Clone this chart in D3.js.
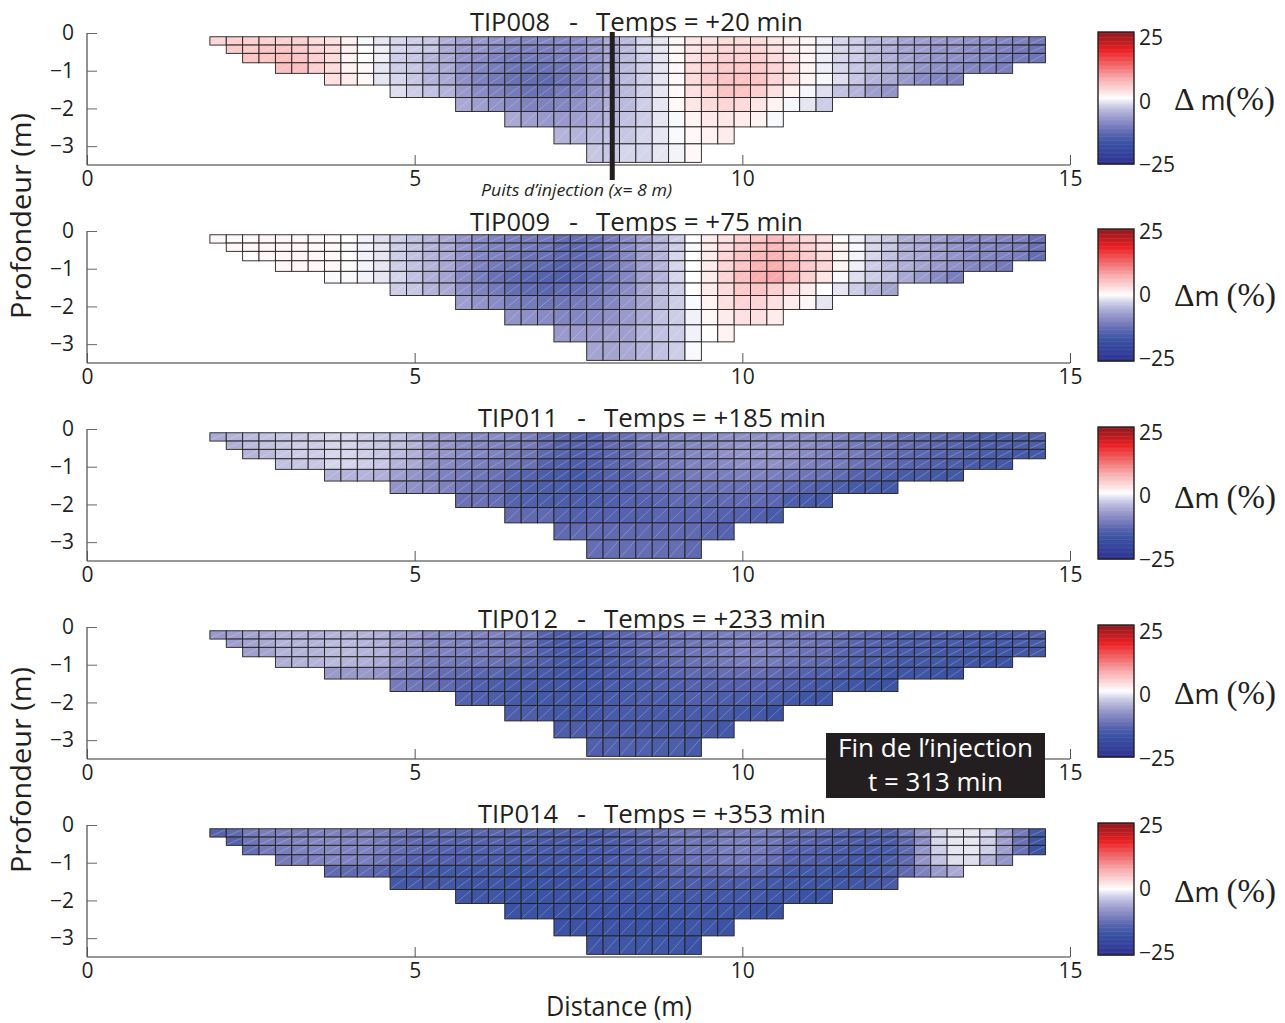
<!DOCTYPE html>
<html><head><meta charset="utf-8">
<script src="https://cdn.jsdelivr.net/npm/d3@7/dist/d3.min.js"></script>
<style>
html,body{margin:0;padding:0;background:#fff}
svg{display:block}
text{font-family:"Open Sans",sans-serif;fill:#231f20}
</style></head><body>
<svg id="c" width="1285" height="1023"></svg>
<script>
const panelTitles=["TIP008","TIP009","TIP011","TIP012","TIP014"];
const panelTimes=["+20","+75","+185","+233","+353"];
const rowStart=[0,1,2,4,7,11,15,18,21,23];
const depthEdges=[0.1,0.32,0.54,0.79,1.07,1.38,1.71,2.08,2.49,2.94,3.43];
const colWidth=0.25, firstCol=1.875;
const xTicks=[0,5,10,15], yTicks=[0,-1,-2,-3];
const barTicks=[25,0,-25];
const legendDelta=["m(%)","m (%)","m (%)","m (%)","m (%)"];

const tip008=[
[3.5,4,4,4,4,4,3,2.5,1,-.4,-1.5,-2.5,-3,-3.5,-5.5,-7,-7.5,-8,-9,-9.5,-9.5,-9.5,-9,-8,-6,-4.5,-2.5,-1.5,.5,2,2.5,3,3,3,2,1.5,.6,-.8,-2.5,-3,-4.5,-5,-6.5,-7,-7.5,-7.5,-8.5,-9,-9.5,-10,-11],
[4.5,4.5,5,5,4.5,3.5,3,1,0,-1,-2.5,-3,-3.5,-6,-7.5,-8,-9,-10,-10.5,-10.5,-10,-9.5,-8,-6.5,-4.5,-2.5,-1.5,.5,2,3,3.5,3.5,3.5,2.5,1.5,.5,-1,-2.5,-3,-4.5,-5.5,-6.5,-7,-8,-8,-9,-9.5,-10,-11,-11.5],
[5,5,5.5,5,4,3,.8,0,-1,-3,-3.5,-5,-6,-8,-9,-10,-11,-11,-11,-10.5,-9.5,-8,-6.5,-4.5,-3,-1.5,.4,2.5,3.5,4,4,4,3,2,.6,-1,-2.5,-3,-4.5,-5.5,-6.5,-7.5,-8,-8.5,-9,-9.5,-10.5,-11,-11.5],
[5.5,5.5,4,3,1,.5,-1.5,-3,-3.5,-5,-6,-8.5,-9.5,-10.5,-11.5,-12,-12,-11.5,-10,-8.5,-6.5,-4.5,-3,-1.5,.4,3,4,4.5,4.5,4.5,3.5,2.5,.8,-1,-2.5,-3.5,-4.5,-5.5,-6.5,-8,-8.5,-9,-9.5,-10,-10.5],
[2.5,1.5,.5,-1.5,-2.5,-3.5,-5,-6,-8.5,-10,-11,-12,-12.5,-13,-12,-10.5,-9,-6.5,-4.5,-3,-1.5,.4,3,4.5,5,5,5,3.5,2.5,.8,-.5,-2,-3.5,-5,-6,-7.5,-9,-9.5,-10],
[-2,-3,-4,-5,-7.5,-9,-10,-11,-12,-12,-11,-10,-8,-6.5,-4.5,-3,-1.5,.4,2.5,3.5,5,5,4,2.5,1,-.5,-2,-4,-5,-7,-8],
[-6,-7,-8,-9,-10,-10,-9.5,-8.5,-7,-5.5,-4.5,-3,-1.5,.4,2,3,3.5,3,2,1,-.5,-1.5,-3],
[-6,-7,-7.5,-7.5,-7,-6,-5,-4,-3,-1.5,-.4,.8,1.8,2,1.5,1,-.4],
[-5,-5,-4.5,-4,-3.5,-2.5,-1.5,-.4,.5,1,1.5],
[-3.5,-3.5,-2.5,-2.5,-1.5,-.7,.5]];

const tip009=[
[.5,.5,.5,.6,.6,.5,.5,.4,0,-.8,-2,-3,-4,-5,-6,-8,-9,-10,-10.5,-11,-11,-12.5,-12.5,-12,-11,-9,-7,-5,-3,0,1.5,2.5,4,5,6,4.5,3.5,2.5,.2,-.8,-2.5,-3.5,-5.5,-6,-7,-8,-9,-9,-9.5,-10,-12],
[.6,.6,.6,.6,.5,.5,.5,-.3,-.8,-1.5,-3,-4,-5,-6,-8,-9.5,-10,-10.5,-11,-11.5,-13,-13,-12.5,-11,-9,-7,-5,-3,-.4,1.5,3,4.5,5.5,6,5,4,2.5,1,-.4,-2.5,-3.5,-5.5,-6,-7,-8,-9,-9.5,-10,-10.5,-12],
[0,.5,.6,.6,.6,.5,0,-.8,-1.5,-3,-4,-5,-6,-8,-9.5,-10,-11,-12,-12,-13,-13,-12.5,-11,-9.5,-7,-5,-2.5,0,1.5,3.5,5,6,6.5,5.5,4.5,3,.8,-.6,-2.5,-4,-5.5,-6,-7,-8,-9,-9.5,-10,-10.5,-12.5],
[.6,.6,.5,.5,.3,-.6,-1.5,-3,-4,-5,-6,-8.5,-10,-11,-12,-12.5,-13,-14,-13,-12.5,-11,-9.5,-7,-5,-2.5,0,1.5,3.5,5,6.5,7,6,4.5,3.5,.8,-1,-3,-4.5,-5.5,-6.5,-7.5,-8.5,-9.5,-10,-11],
[-.3,-.4,-.8,-1.5,-2.5,-4,-5.5,-6.5,-9,-10.5,-12,-13,-13.5,-14,-14.5,-13.5,-12.5,-11,-9.5,-7,-5,-2.5,0,1.5,3.5,5.5,7,7.5,6,4,2,-.3,-2,-3,-4,-6,-7.5,-9,-10.5],
[-3,-3.5,-5,-6,-8.5,-10,-11,-12.5,-13,-13.5,-13,-12.5,-11.5,-10.5,-9,-6.5,-4.5,-3,0,1.5,3,4.5,5,4,3,1.5,0,-1.5,-3,-5,-6.5],
[-7,-8,-9,-10.5,-11,-11.5,-11.5,-11,-10.5,-9.5,-8,-6.5,-4.5,-3,-.4,1,2.5,3.5,3.5,2.5,1.5,.6,-1.5],
[-8,-8.5,-9,-9.5,-9.5,-9,-8.5,-7.5,-6,-4,-3,-.8,.6,1.5,2.5,2.5,1.5],
[-7.5,-7.5,-7.5,-7,-7,-5,-4,-3,-.8,0,1],
[-6.5,-6.5,-6,-5,-4,-3,-.4]];

const tip011=[
[-6,-5,-4.5,-4,-3.5,-3.5,-3,-2.5,-2.5,-3,-3.5,-4,-5,-7,-7.5,-8.5,-9,-9,-10,-10.5,-12,-13,-13.5,-14,-12.5,-12,-10.5,-10,-9.5,-9.5,-9,-8.5,-8.5,-8.5,-8.5,-8.5,-9,-9.5,-10,-10.5,-11,-11,-12,-12.5,-13,-13,-14.5,-15,-15,-14.5,-14.5],
[-5.5,-4.5,-4,-3.5,-3,-3,-2.5,-2.5,-3,-3.5,-4,-5,-7,-8,-9,-9.5,-10,-10.5,-11,-12.5,-14,-14,-14,-13,-12.5,-11,-10,-9.5,-9.5,-9,-8.5,-8,-8,-8,-8.5,-9,-9.5,-10.5,-11,-11.5,-12,-12.5,-13,-13.5,-14,-14.5,-15,-15,-15,-15],
[-5,-4.5,-3.5,-3,-3,-2.5,-2.5,-3,-3.5,-4.5,-5.5,-7.5,-8,-9,-9.5,-10,-11,-11.5,-13,-14,-14.5,-14,-13.5,-12.5,-11.5,-10.5,-10,-9.5,-9,-8.5,-8,-8,-8,-8.5,-9,-10,-10.5,-11,-12,-12.5,-13,-13.5,-14,-14,-14.5,-15,-15.5,-16,-16],
[-4,-3.5,-3.5,-2.5,-2.5,-3,-3.5,-5,-6,-8,-9,-10,-10.5,-11,-11.5,-12,-14,-14.5,-15,-14.5,-13.5,-13,-12,-11,-10.5,-10,-9.5,-9,-8.5,-8.5,-8.5,-9,-10,-10.5,-11,-12,-12.5,-13,-13.5,-14,-14.5,-15,-15.5,-16,-16],
[-5,-5,-5,-5.5,-7,-8,-9.5,-10,-11,-11.5,-12,-13.5,-14,-15,-15.5,-16,-15,-14,-14,-13,-12,-11.5,-11,-10.5,-10.5,-10,-10,-10.5,-11,-11.5,-12,-13,-14,-14.5,-15,-15.5,-15.5,-16,-16],
[-8,-8.5,-9,-10,-11.5,-12,-12.5,-14,-14.5,-15,-15,-15.5,-15,-14.5,-14.5,-13.5,-13,-12.5,-12,-12,-12,-12,-12,-12.5,-13,-14,-14.5,-15,-15.5,-15.5,-16],
[-12,-12,-12.5,-14,-14.5,-15,-15,-15,-15,-14.5,-14,-14,-13.5,-13,-13,-13,-13,-13,-13,-13.5,-15,-15.5,-15.5],
[-12.5,-13,-13,-14,-14.5,-14,-14,-14,-14,-13.5,-13.5,-13.5,-13.5,-14,-14,-14.5,-15.5],
[-13,-13,-13,-13,-13,-13,-13,-13,-13,-13.5,-14],
[-12.5,-12.5,-12.5,-12.5,-12.5,-12.5,-13]];

const tip012=[
[-7.5,-7,-6.5,-6,-5.5,-5.5,-5.5,-5,-5,-5,-5.5,-7,-7.5,-9,-9,-9.5,-10,-10,-10.5,-11,-14,-15,-15,-15,-13.5,-13.5,-12.5,-12,-11.5,-11,-11,-10.5,-10.5,-10.5,-11,-11,-11.5,-11.5,-12.5,-13,-13.5,-14,-14.5,-14.5,-15,-15,-15,-15.5,-15.5,-15,-15],
[-7,-6.5,-6,-5,-5,-5,-4.5,-4.5,-5,-5.5,-7,-8,-9.5,-9.5,-10,-10.5,-10.5,-11,-12,-14.5,-15.5,-15.5,-15,-14,-13.5,-13,-12.5,-12,-11.5,-11,-10.5,-10,-10,-10.5,-11,-11.5,-12,-13,-13.5,-14,-14.5,-15,-15,-15.5,-15.5,-16,-16,-16,-15.5,-15.5],
[-7,-6.5,-5,-5,-5,-4.5,-4.5,-5,-5.5,-7.5,-8.5,-10,-10,-10.5,-11,-11,-11.5,-12.5,-14.5,-15.5,-16,-15.5,-14.5,-14,-13,-12.5,-12,-11.5,-11,-10.5,-10,-10,-10.5,-11,-12,-12.5,-13.5,-14,-14.5,-15,-15.5,-15.5,-16,-16,-16,-16.5,-16.5,-16,-16],
[-5.5,-5,-5,-4.5,-5,-5.5,-6,-8,-9.5,-10.5,-11,-11.5,-11.5,-12,-12.5,-13.5,-14.5,-15.5,-16,-15.5,-15,-14.5,-14,-13,-12.5,-12,-11.5,-11,-10.5,-10.5,-11,-11.5,-12.5,-13,-14,-14.5,-15,-15.5,-16,-16,-16,-16.5,-16.5,-17,-17],
[-7.5,-7.5,-7.5,-8,-10,-11,-12,-12.5,-13,-13.5,-13.5,-15,-15,-15.5,-16,-16.5,-16,-15.5,-15,-14.5,-14,-13.5,-13,-13,-12.5,-12.5,-12.5,-13,-13.5,-14,-14.5,-15,-15.5,-16,-16.5,-16.5,-16.5,-17,-17],
[-11,-11.5,-12.5,-13,-14,-14.5,-15,-15.5,-15.5,-16,-16,-16,-16,-15.5,-15.5,-15,-14.5,-14.5,-14,-14,-14,-14,-14,-14.5,-15,-15.5,-16,-16.5,-16.5,-17,-17],
[-14,-14.5,-15,-15.5,-16,-16,-16,-16,-16,-15.5,-15.5,-15,-15,-15,-14.5,-14.5,-15,-15,-15,-15.5,-16,-16.5,-16.5],
[-15,-15,-15.5,-16,-16,-16,-15.5,-15.5,-15.5,-15.5,-15.5,-15.5,-15.5,-15.5,-16,-16,-17],
[-15,-15,-15,-15.5,-15.5,-15.5,-15.5,-15.5,-15.5,-15.5,-16],
[-14.5,-14.5,-14.5,-14.5,-15,-15,-15.5]];

const tip014=[
[-14,-13,-11,-10.5,-10.5,-10.5,-10,-10,-10.5,-10,-11,-12,-13,-13,-13,-13.5,-13.5,-13.5,-14,-14,-15,-15,-15,-15.5,-15,-14,-13.5,-12.5,-11.5,-11.5,-12,-11,-11,-11,-11.5,-12.5,-13,-13.5,-14,-14.5,-14.5,-14.5,-11.5,-8,-2.5,-1.5,-1.5,-2.5,-7,-11,-16],
[-14,-11.5,-10.5,-10.5,-10,-9.5,-9.5,-10,-10,-11,-12.5,-13,-13.5,-13.5,-14,-14,-14,-14.5,-14.5,-15.5,-15.5,-15.5,-15.5,-15,-14.5,-14,-13,-11.5,-11.5,-11.5,-10.5,-10.5,-11,-11.5,-13,-13.5,-14,-14.5,-15,-15,-15,-13,-9,-2.5,-1.5,-1.5,-3,-7,-12,-16.5],
[-12.5,-11,-10.5,-10,-9.5,-9.5,-10,-10,-11,-12.5,-13,-14,-14,-14.5,-14.5,-14.5,-15,-15,-15.5,-15.5,-15.5,-15.5,-15.5,-14.5,-14,-13,-12,-11.5,-11.5,-10.5,-10.5,-11,-12,-13.5,-14,-14.5,-15,-15.5,-15.5,-15.5,-13,-8,-3,-1.5,-1.5,-3,-7,-12,-17],
[-11,-10.5,-10,-9.5,-10,-10.5,-11.5,-13,-14,-14.5,-14.5,-15,-15,-15,-15.5,-15.5,-16,-16,-16,-16,-15.5,-15,-14.5,-14,-12.5,-12,-12,-11,-11,-11.5,-12.5,-14,-14.5,-15,-15.5,-16,-16,-15,-13,-8,-4,-2,-2,-5.5,-8],
[-13,-13,-13,-13.5,-15,-15.5,-16,-16,-16,-16,-16,-16.5,-16.5,-16.5,-16.5,-16.5,-16.5,-16,-16,-15.5,-14.5,-13.5,-13.5,-13,-13,-13,-13.5,-14.5,-15.5,-16,-16,-16.5,-16.5,-16,-15,-13,-10,-7.5,-6],
[-16,-16,-16,-16,-16.5,-16.5,-16.5,-17,-17,-17,-17,-17,-17,-16.5,-16.5,-16.5,-15.5,-15,-15,-15,-15,-15,-15.5,-16,-16,-16.5,-16.5,-16.5,-16.5,-16,-15.5],
[-16.5,-16.5,-16.5,-17,-17,-17,-17,-17,-17,-16.5,-16.5,-16.5,-16,-16,-16,-16,-16,-16,-16,-16.5,-16.5,-17,-17],
[-17,-17,-17,-17,-17,-17,-17,-17,-17,-17,-16.5,-16.5,-16.5,-16.5,-16.5,-17,-17],
[-17,-17,-17,-17,-17,-17,-17,-17,-16.5,-16.5,-17],
[-16.5,-16.5,-16.5,-16.5,-16.5,-16.5,-17]];

const panelData=[tip008,tip009,tip011,tip012,tip014];

const colorStops=[-25,-17,-16,-14,-12.5,-10,-8,-5,-3,-1.5,-.5,0,.5,2,5,7.5,12,18,21,25];
const colorValues=["#2e3192","#3b53a4","#4359a7","#5562ad","#656eb3","#7e82bf","#9394c8","#b4b4da","#cdcde7","#e6e6f3","#f6f7fb","#ffffff","#fff8f8","#fee6e6","#fbc4c5","#f9a9ab","#f26c6e","#ed2024","#c01f23","#8b1a1e"];
const color=d3.scaleLinear().domain(colorStops).range(colorValues);

const svg=d3.select("#c");
const ink="#231f20";
const x=d3.scaleLinear().domain([0,15]).range([87,1070]);
const panelOffset=[0,198,396,594,792];
const titleY=[31,231,427,628,823];
const titleX=[[470,803],[470,803],[478,826],[478,826],[478,826]];
const barTop=[32,229,427,625,823];
const barLabelY=[[37,101,164],[231,294,358],[432,495,559],[631,694,758],[825,888,952]];
const legendY=[110,306,508,704,902];

panelData.forEach((rows,p)=>{
  const off=panelOffset[p];
  const y=d3.scaleLinear().domain([0,-3.5]).range([33+off,165+off]);
  const g=svg.append("g");

  // title, in three pieces
  const tx=titleX[p];
  const titlePiece=(x0,len,s)=>g.append("text").attr("x",x0).attr("y",titleY[p]).attr("font-size",25)
    .attr("textLength",len).attr("lengthAdjust","spacingAndGlyphs").text(s);
  titlePiece(tx[0],80,panelTitles[p]);
  titlePiece(tx[0]+99,9,"-");
  titlePiece(tx[0]+126,tx[1]-tx[0]-126,"Temps = "+panelTimes[p]+" min");

  // axes
  const ax=g.append("g").attr("transform",`translate(87,0)`)
    .call(d3.axisLeft(y).tickValues(yTicks).tickSize(-10).tickSizeOuter(0).tickPadding(13)
      .tickFormat(d=>String(d).replace("-","\u2212")));
  ax.select(".domain").attr("stroke","#777").attr("stroke-width",1.6).attr("d",`M0,${33+off}V${165+off}`);
  ax.selectAll(".tick line").attr("stroke","#666").attr("stroke-width",1);
  ax.selectAll("text").attr("font-size",21).attr("font-family","Open Sans").attr("fill",ink);

  const bx=g.append("g").attr("transform",`translate(0,${165+off})`)
    .call(d3.axisBottom(x).tickValues(xTicks).tickSize(-10).tickSizeOuter(0).tickPadding(6)
      .tickFormat(d3.format("d")));
  bx.select(".domain").attr("stroke","#333").attr("stroke-width",1.2).attr("d","M87,0H1070");
  bx.selectAll(".tick line").attr("stroke","#555").attr("stroke-width",1);
  bx.selectAll("text").attr("font-size",21).attr("font-family","Open Sans").attr("fill",ink);

  // cells
  const cells=rows.flatMap((vals,r)=>vals.map((v,i)=>({r,c:rowStart[r]+i,v})));
  const rect=d=>({x0:x(firstCol+d.c*colWidth),x1:x(firstCol+(d.c+1)*colWidth),
    y0:y(-depthEdges[d.r]),y1:y(-depthEdges[d.r+1])});
  g.append("g").selectAll("rect").data(cells).join("rect")
    .attr("x",d=>rect(d).x0).attr("y",d=>rect(d).y0)
    .attr("width",d=>rect(d).x1-rect(d).x0).attr("height",d=>rect(d).y1-rect(d).y0)
    .attr("fill",d=>color(d.v)).attr("stroke",ink).attr("stroke-width",.9);
  g.append("g").selectAll("line").data(cells).join("line")
    .attr("x1",d=>rect(d).x0+1).attr("y1",d=>rect(d).y1-1)
    .attr("x2",d=>rect(d).x1-1).attr("y2",d=>rect(d).y0+1)
    .attr("stroke","#fff").attr("stroke-opacity",.38).attr("stroke-width",.6);

  // colour bar
  const by=d3.scaleLinear().domain([25,-25]).range([barTop[p],barTop[p]+132]);
  const steps=d3.range(25,-25,-0.5);
  g.append("g").selectAll("rect").data(steps).join("rect")
    .attr("x",1098).attr("width",36)
    .attr("y",d=>by(d)).attr("height",d=>by(d-0.5)-by(d)+.5)
    .attr("fill",d=>color(d-0.25));
  g.append("rect").attr("x",1098).attr("y",barTop[p]).attr("width",36).attr("height",132)
    .attr("fill","none").attr("stroke",ink).attr("stroke-width",1.4);
  g.append("g").selectAll("text").data(barTicks).join("text")
    .attr("x",1139).attr("y",(d,i)=>barLabelY[p][i]+7.5)
    .attr("font-size",21).text(d=>String(d).replace("-","\u2212"));

  // legend label
  const lt=g.append("text").attr("x",1174).attr("y",legendY[p]).attr("font-size",32);
  lt.append("tspan").attr("font-family","Liberation Serif").text("\u0394");
  const parts=legendDelta[p].split("(");
  lt.append("tspan").attr("dx",p===0?6:0).attr("font-family","Open Sans").attr("font-size",27).text(parts[0]);
  lt.append("tspan").attr("font-family","Liberation Serif").attr("font-size",33).text("("+parts[1]);
});

// injection well
const wellX=8;
svg.append("line").attr("x1",x(wellX)+1).attr("x2",x(wellX)+1).attr("y1",32).attr("y2",180)
  .attr("stroke",ink).attr("stroke-width",5);
svg.append("text").attr("x",481).attr("y",196).attr("font-size",16).attr("font-style","italic")
  .attr("textLength",191).attr("lengthAdjust","spacingAndGlyphs").attr("fill","#333")
  .text("Puits d\u2019injection (x= 8 m)");

// end of injection box
svg.append("rect").attr("x",826).attr("y",733).attr("width",219).attr("height",65).attr("fill",ink);
svg.append("text").attr("x",935.5).attr("y",757).attr("text-anchor","middle").attr("font-size",25)
  .attr("textLength",195).attr("lengthAdjust","spacingAndGlyphs")
  .style("fill","#fff").text("Fin de l\u2019injection");
svg.append("text").attr("x",935.5).attr("y",791).attr("text-anchor","middle").attr("font-size",25)
  .attr("textLength",135).attr("lengthAdjust","spacingAndGlyphs")
  .style("fill","#fff").text("t = 313 min");

// axis names
[216,770].forEach(c=>{
  svg.append("text").attr("transform",`translate(31,${c}) rotate(-90)`).attr("text-anchor","middle")
    .attr("font-size",27).attr("textLength",206).attr("lengthAdjust","spacingAndGlyphs").text("Profondeur (m)");
});
svg.append("text").attr("x",619).attr("y",1016).attr("text-anchor","middle").attr("font-size",27)
  .attr("textLength",146).attr("lengthAdjust","spacingAndGlyphs").text("Distance (m)");
</script>
</body></html>
